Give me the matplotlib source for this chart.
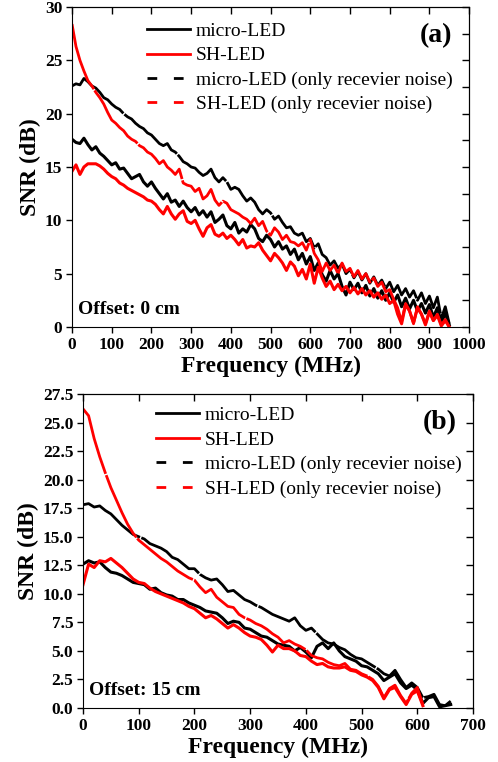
import numpy as np
import matplotlib.pyplot as plt
from matplotlib.lines import Line2D
from matplotlib.ticker import MultipleLocator

plt.rcParams['font.family'] = ['Liberation Serif', 'DejaVu Serif']

nan = np.nan

# (a) Offset 0 cm, frecuencia cada 10 MHz
freq_a = np.arange(0, 960, 10)
micro_a = [17.6, 17.3, 17.2, 17.7, 17.1, 16.6, 16.9, 16.3, 16.0, 15.6,
           15.2, 15.4, 14.8, 14.9, 14.4, 13.9, 14.1, 14.3, 13.6, 13.2,
           13.6, 13.0, 12.5, 12.0, 12.5, 11.7, 11.9, 11.3, 11.8, 11.2,
           10.8, 11.2, 10.5, 10.9, 10.3, 10.8, 9.8, 10.1, 10.5, 9.5,
           9.2, 9.8, 8.8, 9.2, 8.9, 9.6, 9.2, 8.3, 8.0, 8.6,
           8.2, 7.5, 8.0, 7.3, 7.6, 6.8, 7.3, 6.3, 6.9, 5.9,
           6.6, 5.3, 6.0, 4.9, 4.3, 5.3, 4.5, 5.0, 3.8, 3.0,
           4.2, 3.5, 4.1, 3.2, 3.9, 2.9, 3.6, 2.7, 3.4, 2.5,
           3.2, 2.3, 3.0, 1.9, 2.7, 1.7, 2.5, 1.5, 2.2, 1.3,
           2.1, 0.9, 1.8, 0.4, 1.3, 0.2]
sh_a = [14.6, 15.2, 14.3, 15.0, 15.3, 15.3, 15.3, 15.1, 14.8, 14.4,
        14.1, 13.9, 13.5, 13.3, 13.0, 12.8, 12.6, 12.4, 12.2, 11.9,
        11.8, 11.5, 11.0, 10.6, 11.3, 10.6, 10.1, 10.6, 10.9, 9.9,
        9.7, 10.0, 9.2, 8.5, 9.3, 9.6, 8.7, 8.5, 8.8, 8.3,
        8.6, 8.2, 7.7, 8.2, 7.4, 7.6, 7.5, 7.9, 7.2, 6.7,
        6.2, 6.9, 6.5, 6.0, 5.3, 6.1, 5.7, 4.8, 5.4, 4.5,
        5.9, 4.1, 5.6, 4.6, 3.8, 4.3, 3.5, 4.0, 3.4, 3.8,
        3.2, 3.7, 3.1, 3.6, 3.0, 3.4, 2.8, 3.2, 2.6, 3.0,
        2.2, 2.5, 1.2, 0.3, 2.1, 1.5, 0.4, 1.8, 1.2, 0.2,
        1.4, 0.6, 1.1, 0.1, 0.6, 0.0]
micro_rx_a = [22.6, 22.8, 22.7, 23.3, 23.0, 22.6, 22.4, 22.0, 21.5, 21.3,
              20.9, 20.6, 20.4, 20.0, 19.7, 19.5, 19.1, 18.8, 18.6, 18.2,
              18.0, 17.6, 17.2, 17.0, 17.2, 16.6, 16.4, 16.0, 15.5, 15.3,
              15.0, 14.9, 14.5, 14.2, 14.4, 14.8, 14.0, 13.6, 14.0, 13.6,
              12.9, 13.1, 12.9, 12.3, 11.8, 12.1, 11.7, 11.0, 10.6, 11.0,
              10.7, 10.1, 10.4, 9.8, 9.3, 9.4, 8.8, 8.6, 8.8, 8.0,
              8.3, 7.4, 7.8, 6.8, 6.5, 5.8, 6.2, 5.5, 5.9, 5.0,
              5.4, 4.6, 5.2, 4.4, 5.0, 4.1, 4.7, 3.9, 4.4, 3.6,
              4.2, 3.3, 3.9, 3.0, 3.6, 2.8, 3.4, 2.5, 3.2, 2.2,
              2.9, 1.8, 2.8, 0.8, 1.9, 0.3]
sh_rx_a = [28.4, 26.3, 25.0, 24.0, 23.1, 22.6, 22.0, 21.5, 20.9, 20.1,
           19.4, 19.1, 18.7, 18.4, 17.9, 17.6, 17.4, 17.0, 16.8, 16.4,
           16.2, 15.8, 15.3, 15.6, 15.0, 14.7, 14.3, 14.8, 13.5, 13.3,
           13.2, 12.7, 13.0, 12.0, 12.3, 12.9, 11.9, 11.4, 11.8, 11.6,
           11.0, 10.8, 10.6, 10.3, 10.1, 9.7, 10.2, 9.5, 9.9, 9.0,
           8.6, 9.3, 8.9, 8.2, 8.6, 8.0, 7.9, 7.6, 7.9, 7.2,
           8.2, 6.9, 6.3, 5.2, 6.0, 5.3, 5.8, 5.0, 6.0, 5.2,
           5.5, 4.7, 5.3, 4.5, 5.0, 4.2, 4.6, 3.8, 4.2, 3.3,
           3.5, 2.6, 1.8, 0.5, 2.2, 1.5, 0.3, 1.9, 1.2, 0.3,
           1.5, 0.6, 1.2, 0.2, 0.7, 0.0]

# (b) Offset 15 cm
freq_b = np.arange(0, 670, 10)
micro_b = [12.6, 12.9, 12.7, 12.8, 12.3, 11.9, 11.8, 11.6, 11.3, 11.0,
           10.9, 10.8, 10.4, 10.5, 10.1, 9.9, 9.8, 9.5, 9.5, 9.2,
           9.0, 8.8, 8.5, 8.4, 8.3, 7.9, 7.4, 7.6, 7.5, 7.0,
           6.9, 6.6, 6.3, 6.2, 5.9, 5.6, 5.5, 5.4, 5.0, 5.3,
           4.9, 4.4, 5.4, 5.7, 5.2, 5.7, 5.0, 4.5, 4.3, 4.1,
           3.7, 3.6, 3.3, 3.0, 2.4, 2.7, 3.0, 2.2, 1.7, 2.0,
           1.6, 0.4, 0.9, 1.0, 0.1, 0.2, 0.3]
sh_b = [10.8, 12.6, 12.3, 12.9, 12.8, 13.1, 12.7, 12.3, 11.8, 11.3,
        11.0, 10.9, 10.5, 10.2, 10.0, 9.8, 9.6, 9.4, 9.2, 8.9,
        8.7, 8.3, 7.9, 8.1, 7.8, 7.4, 7.0, 7.3, 7.0, 6.6,
        6.3, 6.2, 6.0, 5.5, 4.9, 5.5, 5.2, 5.2, 5.0, 4.6,
        4.5, 4.1, 3.8, 3.9, 3.6, 3.5, 3.5, 3.6, 3.3, 3.2,
        2.9, 2.7, 2.4, 1.8, 0.8, 1.6, 1.8, 1.0, 0.3, 1.2,
        1.5, 0.2, nan, nan, nan, nan, nan]
micro_rx_b = [17.8, 17.9, 17.6, 17.7, 17.3, 17.0, 16.5, 16.0, 15.6, 15.2,
              15.0, 14.8, 14.4, 14.2, 14.0, 13.7, 13.2, 13.0, 12.6, 12.2,
              12.2, 11.7, 11.4, 11.2, 11.3, 10.8, 10.2, 10.3, 9.9, 9.5,
              9.3, 9.0, 8.8, 8.5, 8.2, 8.0, 7.8, 7.6, 7.9, 7.2,
              6.8, 7.0, 6.5, 6.0, 5.7, 5.6, 5.3, 5.1, 4.7, 4.4,
              4.3, 4.0, 3.7, 3.4, 3.0, 2.8, 3.3, 2.5, 1.8, 2.2,
              1.8, 0.9, 1.0, 1.2, 0.3, 0.2, 0.6]
sh_rx_b = [26.2, 25.6, 23.6, 22.0, 20.6, 19.3, 18.2, 17.1, 16.1, 15.3,
           14.7, 14.3, 13.9, 13.5, 13.1, 12.8, 12.4, 12.0, 11.7, 11.4,
           11.2, 10.6, 10.1, 10.4, 9.7, 9.3, 8.9, 8.8, 8.2, 7.9,
           7.7, 7.4, 7.2, 6.9, 6.5, 6.2, 5.7, 5.9, 5.6, 5.4,
           5.1, 4.6, 4.4, 4.3, 4.0, 3.8, 3.7, 3.9, 3.4, 3.3,
           3.0, 2.8, 2.5, 1.9, 0.9, 1.7, 2.0, 1.1, 0.4, 1.3,
           1.8, 0.3, nan, nan, nan, nan, nan]

labels = ['micro-LED', 'SH-LED', 'micro-LED (only recevier noise)',
          'SH-LED (only recevier noise)']

fig = plt.figure(figsize=(4.98, 7.62), dpi=100)
ax1 = fig.add_axes([0.1446, 0.5709, 0.7974, 0.4199])
ax2 = fig.add_axes([0.1667, 0.0709, 0.7831, 0.4120])

# los datos son tan densos que la linea discontinua casi no deja huecos
dash_curve = (0, (25, 0.5))


def dibujar(ax, f, m, s, mrx, srx):
    ax.plot(f, mrx, color='black', lw=2, ls=dash_curve)
    ax.plot(f, m, color='black', lw=2.2)
    ax.plot(f, srx, color='red', lw=2, ls=dash_curve)
    ax.plot(f, s, color='red', lw=2.2)


dibujar(ax1, freq_a, micro_a, sh_a, micro_rx_a, sh_rx_a)
dibujar(ax2, freq_b, micro_b, sh_b, micro_rx_b, sh_rx_b)

handles = [Line2D([], [], color='black', lw=2),
           Line2D([], [], color='red', lw=2),
           Line2D([], [], color='black', lw=2, ls=(0, (3.5, 6))),
           Line2D([], [], color='red', lw=2, ls=(0, (3.5, 6)))]

ax1.set_xlim(0, 1000)
ax1.set_ylim(0, 30)
ax1.xaxis.set_major_locator(MultipleLocator(100))
ax1.yaxis.set_major_locator(MultipleLocator(5))

ax2.set_xlim(0, 700)
ax2.set_ylim(0, 27.5)
ax2.xaxis.set_major_locator(MultipleLocator(100))
ax2.yaxis.set_major_locator(MultipleLocator(2.5))
ax2.yaxis.set_major_formatter(lambda v, p: f'{v:.1f}')

for ax, lab, off, lx, ly in [(ax1, '(a)', 'Offset: 0 cm', 0.189, 0.952),
                             (ax2, '(b)', 'Offset: 15 cm', 0.187, 0.960)]:
    ax.tick_params(direction='out', length=4, width=1, labelsize=12.5, pad=3)
    for t in ax.get_xticklabels() + ax.get_yticklabels():
        t.set_fontweight('bold')
    # ticks hacia dentro arriba y a la derecha
    sx = ax.secondary_xaxis('top')
    sx.xaxis.set_major_locator(MultipleLocator(100))
    sx.tick_params(direction='in', length=5, width=1, labeltop=False)
    sy = ax.secondary_yaxis('right')
    sy.yaxis.set_major_locator(MultipleLocator(2.5))
    sy.tick_params(direction='in', length=5, width=1, labelright=False)

    ax.set_xlabel('Frequency (MHz)', fontsize=17, fontweight='bold', labelpad=2)
    ax.set_ylabel('SNR (dB)', fontsize=17, fontweight='bold', labelpad=3)
    ax.legend(handles, labels, loc='upper left', bbox_to_anchor=(lx, ly),
              frameon=False, fontsize=14, handlelength=2.2, handletextpad=0.3,
              labelspacing=0.35, borderpad=0, borderaxespad=0)
    ax.text(0.958, 0.91, lab, transform=ax.transAxes, ha='right', va='center',
            fontsize=20, fontweight='bold')
    ax.text(0.015, 0.055, off, transform=ax.transAxes, ha='left', va='center',
            fontsize=14, fontweight='bold')

fig.savefig('out.png', dpi=100)
